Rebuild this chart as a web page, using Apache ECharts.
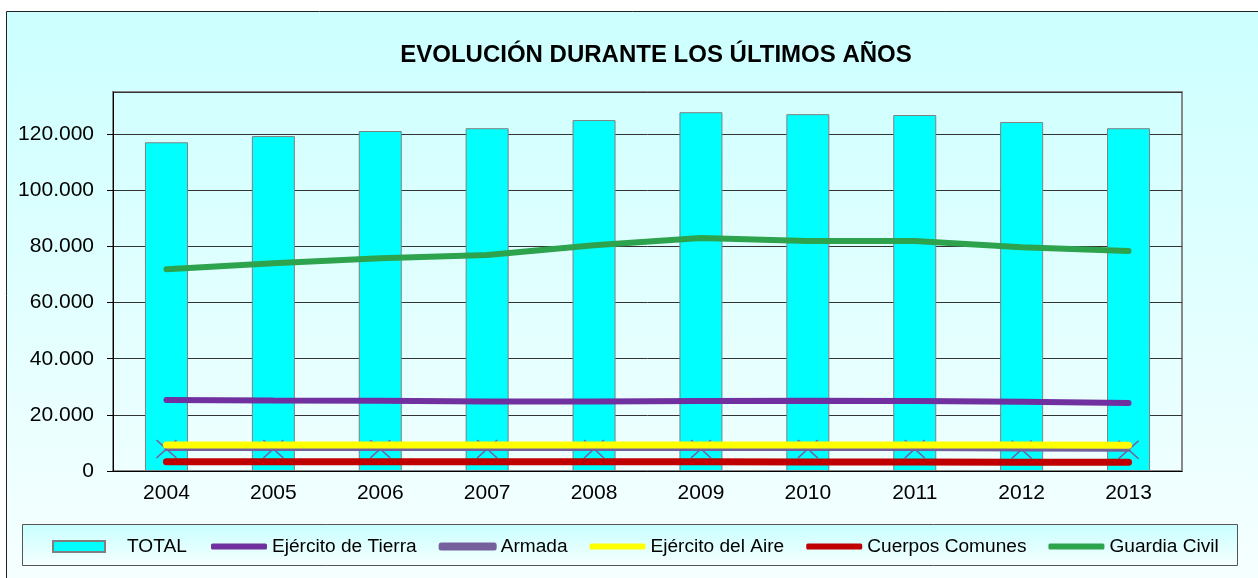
<!DOCTYPE html>
<html>
<head>
<meta charset="utf-8">
<script src="https://cdn.jsdelivr.net/npm/echarts@6/dist/echarts.min.js"></script>
<style>
  html, body { margin: 0; padding: 0; background: #fff; }
  #main { width: 1258px; height: 578px; }
</style>
</head>
<body>
<div id="main"></div>
<script>
var myChart = echarts.init(document.getElementById('main'));

// años
var years = ['2004', '2005', '2006', '2007', '2008', '2009', '2010', '2011', '2012', '2013'];
// efectivos
var total = [117100, 119300, 121100, 122100, 125000, 127800, 127100, 126800, 124300, 122100];
var tierra = [25300, 25100, 25000, 24800, 24800, 24900, 25000, 24900, 24700, 24200];
var armada = [7800, 7800, 7800, 7800, 7800, 7800, 7800, 7800, 7700, 7600];
var aire = [9300, 9300, 9300, 9300, 9300, 9300, 9300, 9300, 9300, 9200];
var comunes = [3300, 3300, 3300, 3300, 3300, 3300, 3200, 3200, 3100, 3100];
var guardia = [71900, 74000, 75800, 76900, 80400, 83000, 81900, 81900, 79700, 78400];

var font = 'Liberation Sans, Arial, sans-serif';

// separador de miles con punto
function miles(v) {
    return String(v).replace(/\B(?=(\d{3})+(?!\d))/g, '.');
}

function linea(name, data, color, width, z) {
    return {
        name: name,
        type: 'line',
        data: data,
        z: z,
        symbol: 'none',
        itemStyle: { color: color },
        lineStyle: { color: color, width: width, cap: 'round' }
    };
}

var armadaSerie = linea('Armada', armada, '#76609c', 4, 2);
armadaSerie.symbol = 'path://M0,0L20,18M20,0L0,18';
armadaSerie.symbolSize = [20, 18];
armadaSerie.showAllSymbol = true;
armadaSerie.itemStyle = { color: '#76609c', borderColor: '#76609c', borderWidth: 1.5 };

var option = {
    animation: false,
    textStyle: { fontFamily: font },
    graphic: [
        {
            type: 'rect',
            z: -10,
            shape: { x: 6.5, y: 11.5, width: 1270, height: 590 },
            style: {
                stroke: '#222',
                lineWidth: 1,
                fill: new echarts.graphic.LinearGradient(0, 0, 0, 1, [
                    { offset: 0, color: '#ccffff' },
                    { offset: 1, color: '#f8ffff' }
                ])
            }
        },
        {
            type: 'rect',
            z: -5,
            shape: { x: 22.5, y: 524.5, width: 1215, height: 41 },
            style: {
                stroke: '#555',
                lineWidth: 1,
                fill: new echarts.graphic.LinearGradient(0, 0, 0, 1, [
                    { offset: 0, color: '#c8ffff' },
                    { offset: 1, color: '#f6ffff' }
                ])
            }
        }
    ],
    title: {
        text: 'EVOLUCIÓN DURANTE LOS ÚLTIMOS AÑOS',
        left: 651,
        top: 38,
        textAlign: 'center',
        textStyle: { fontFamily: font, fontSize: 24, fontWeight: 'bold', color: '#000' }
    },
    legend: [
        {
            left: 47,
            top: 532,
            itemWidth: 52,
            itemHeight: 11,
            textStyle: {
                fontFamily: font, fontSize: 19.1, color: '#000',
                rich: { t: { fontFamily: font, fontSize: 19.1, color: '#000', padding: [0, 0, 0, 17] } }
            },
            formatter: function (name) { return '{t|' + name + '}'; },
            data: [{ name: 'TOTAL', icon: 'rect' }]
        },
        {
            left: 206,
            top: 532,
            itemWidth: 56,
            itemHeight: 6,
            itemGap: 22,
            icon: 'roundRect',
            textStyle: { fontFamily: font, fontSize: 19.1, color: '#000' },
            data: ['Ejército de Tierra', 'Armada', 'Ejército del Aire', 'Cuerpos Comunes', 'Guardia Civil']
        }
    ],
    grid: {
        left: 113,
        right: 76,
        top: 92,
        bottom: 107,
        show: true,
        backgroundColor: 'transparent',
        borderColor: '#888',
        borderWidth: 2
    },
    xAxis: {
        type: 'category',
        data: years,
        axisLine: { lineStyle: { color: '#000', width: 1 } },
        axisTick: { length: 7, lineStyle: { color: '#000' } },
        axisLabel: { fontFamily: font, fontSize: 21, color: '#000', margin: 12 }
    },
    yAxis: {
        type: 'value',
        min: 0,
        max: 135000,
        interval: 20000,
        axisLine: { show: true, lineStyle: { color: '#000', width: 1 } },
        axisTick: { show: true, length: 6, lineStyle: { color: '#000' } },
        axisLabel: {
            fontFamily: font, fontSize: 21, color: '#000', margin: 19,
            showMaxLabel: false,
            formatter: miles
        },
        splitLine: { lineStyle: { color: '#333', width: 1 } }
    },
    series: [
        {
            name: 'TOTAL',
            type: 'bar',
            data: total,
            barWidth: 43,
            itemStyle: { color: '#00ffff', borderColor: '#808080', borderWidth: 1 }
        },
        linea('Ejército de Tierra', tierra, '#7030a0', 6, 3),
        armadaSerie,
        linea('Ejército del Aire', aire, '#ffff00', 7, 4),
        linea('Cuerpos Comunes', comunes, '#c00000', 7, 4),
        linea('Guardia Civil', guardia, '#2ea34e', 6, 4)
    ]
};

myChart.setOption(option);
</script>
</body>
</html>
